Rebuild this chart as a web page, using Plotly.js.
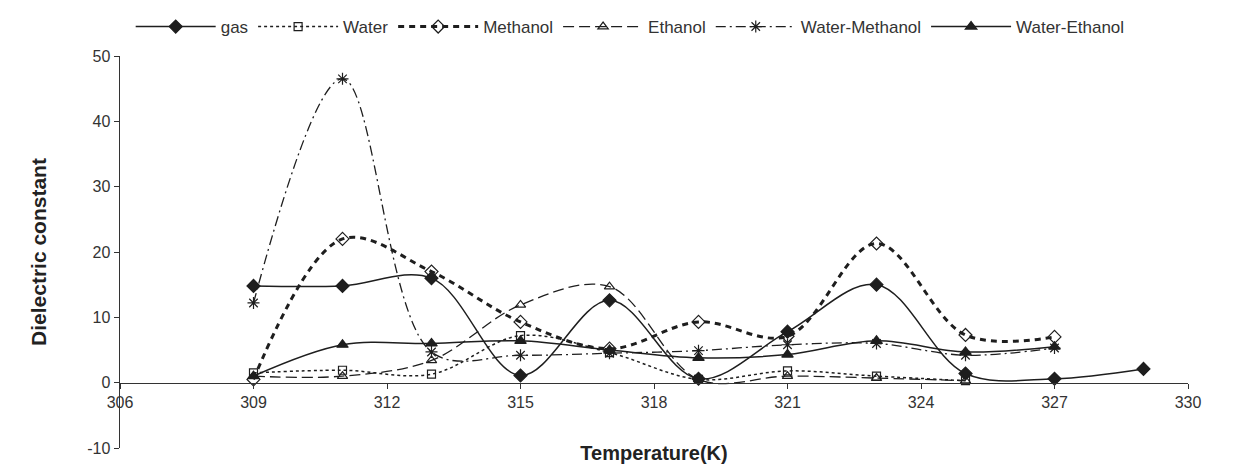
<!DOCTYPE html>
<html>
<head>
<meta charset="utf-8">
<script src="https://cdn.plot.ly/plotly-3.0.1.min.js"></script>
<style>html,body{margin:0;padding:0;background:#fff;}#chart{width:1233px;height:470px;}</style>
</head>
<body>
<div id="chart"></div>
<script>
// Temperatures (K)
const temps = [309, 311, 313, 315, 317, 319, 321, 323, 325, 327, 329];
const tempsWater = [309, 311, 313, 315, 317, 319, 321, 323, 325];
const tempsMix = [309, 311, 313, 315, 317, 319, 321, 323, 325, 327];

// Dielectric constant values
const gas = [14.8, 14.8, 16.0, 1.1, 12.6, 0.6, 7.8, 15.0, 1.4, 0.6, 2.1];
const water = [1.5, 1.9, 1.3, 7.2, 4.6, 0.5, 1.8, 1.0, 0.3];
const methanol = [0.5, 22.0, 17.0, 9.3, 5.2, 9.3, 7.1, 21.3, 7.3, 7.0];
const ethanol = [1.0, 1.0, 3.4, 11.9, 14.7, 0.5, 1.0, 0.7, 0.3];
const waterMethanol = [12.2, 46.5, 4.7, 4.2, 4.5, 4.9, 5.8, 6.0, 4.2, 5.3];
const waterEthanol = [1.0, 5.8, 6.0, 6.4, 5.0, 3.8, 4.3, 6.4, 4.7, 5.5];

const xTicks = [306, 309, 312, 315, 318, 321, 324, 327, 330];
const yTicks = [-10, 0, 10, 20, 30, 40, 50];

const ink = '#1e1e1e';

function tr(name, x, y, dash, width, symbol, size) {
  return {
    type: 'scatter', mode: 'lines+markers', name: name, x: x, y: y,
    line: {color: ink, width: width, dash: dash, shape: 'spline', smoothing: 1},
    marker: {symbol: symbol, size: size, color: ink, line: {color: ink, width: 1.2}}
  };
}

const data = [
  tr('gas', temps, gas, 'solid', 1.5, 'diamond', 10),
  tr('Water', tempsWater, water, 'dot', 1.5, 'square-open', 8),
  tr('Methanol', tempsMix, methanol, '6px,5px', 3, 'diamond-open', 10),
  tr('Ethanol', tempsWater, ethanol, '11px,5px', 1.3, 'triangle-up-open', 9),
  tr('Water-Methanol', tempsMix, waterMethanol, '10px,4px,2px,4px', 1.3, 'asterisk-open', 10),
  tr('Water-Ethanol', tempsMix, waterEthanol, 'solid', 1.5, 'triangle-up', 10)
];

const layout = {
  width: 1233, height: 470,
  margin: {l: 120, r: 45, t: 56, b: 22, autoexpand: false},
  paper_bgcolor: '#fff', plot_bgcolor: '#fff',
  font: {family: 'Liberation Sans, Arial, sans-serif', color: '#333', size: 16},
  showlegend: true,
  legend: {
    orientation: 'h', x: 0.01, xanchor: 'left', y: 1.074, yanchor: 'middle',
    font: {size: 17, color: '#333'}, itemwidth: 80, bgcolor: 'rgba(0,0,0,0)'
  },
  xaxis: {
    range: [306, 330], tickvals: xTicks, ticktext: xTicks.map(String),
    anchor: 'free', position: 1 / 6,
    showline: true, linecolor: '#333', linewidth: 1.5,
    ticks: 'outside', ticklen: 5, tickcolor: '#333',
    showgrid: false, zeroline: false,
    tickfont: {size: 16, color: '#333'},
    title: {text: 'Temperature(K)', font: {size: 20, color: '#222', family: 'Liberation Sans, Arial, sans-serif', weight: 'bold'}, standoff: 35}
  },
  yaxis: {
    range: [-10, 50], tickvals: yTicks, ticktext: yTicks.map(String),
    showline: true, linecolor: '#333', linewidth: 1.5,
    ticks: 'outside', ticklen: 5, tickcolor: '#333',
    showgrid: false, zeroline: false,
    tickfont: {size: 16, color: '#333'},
    title: {text: 'Dielectric constant', font: {size: 21, color: '#222', family: 'Liberation Sans, Arial, sans-serif', weight: 'bold'}, standoff: 35}
  }
};

Plotly.newPlot('chart', data, layout, {displayModeBar: false, staticPlot: true});
</script>
</body>
</html>
